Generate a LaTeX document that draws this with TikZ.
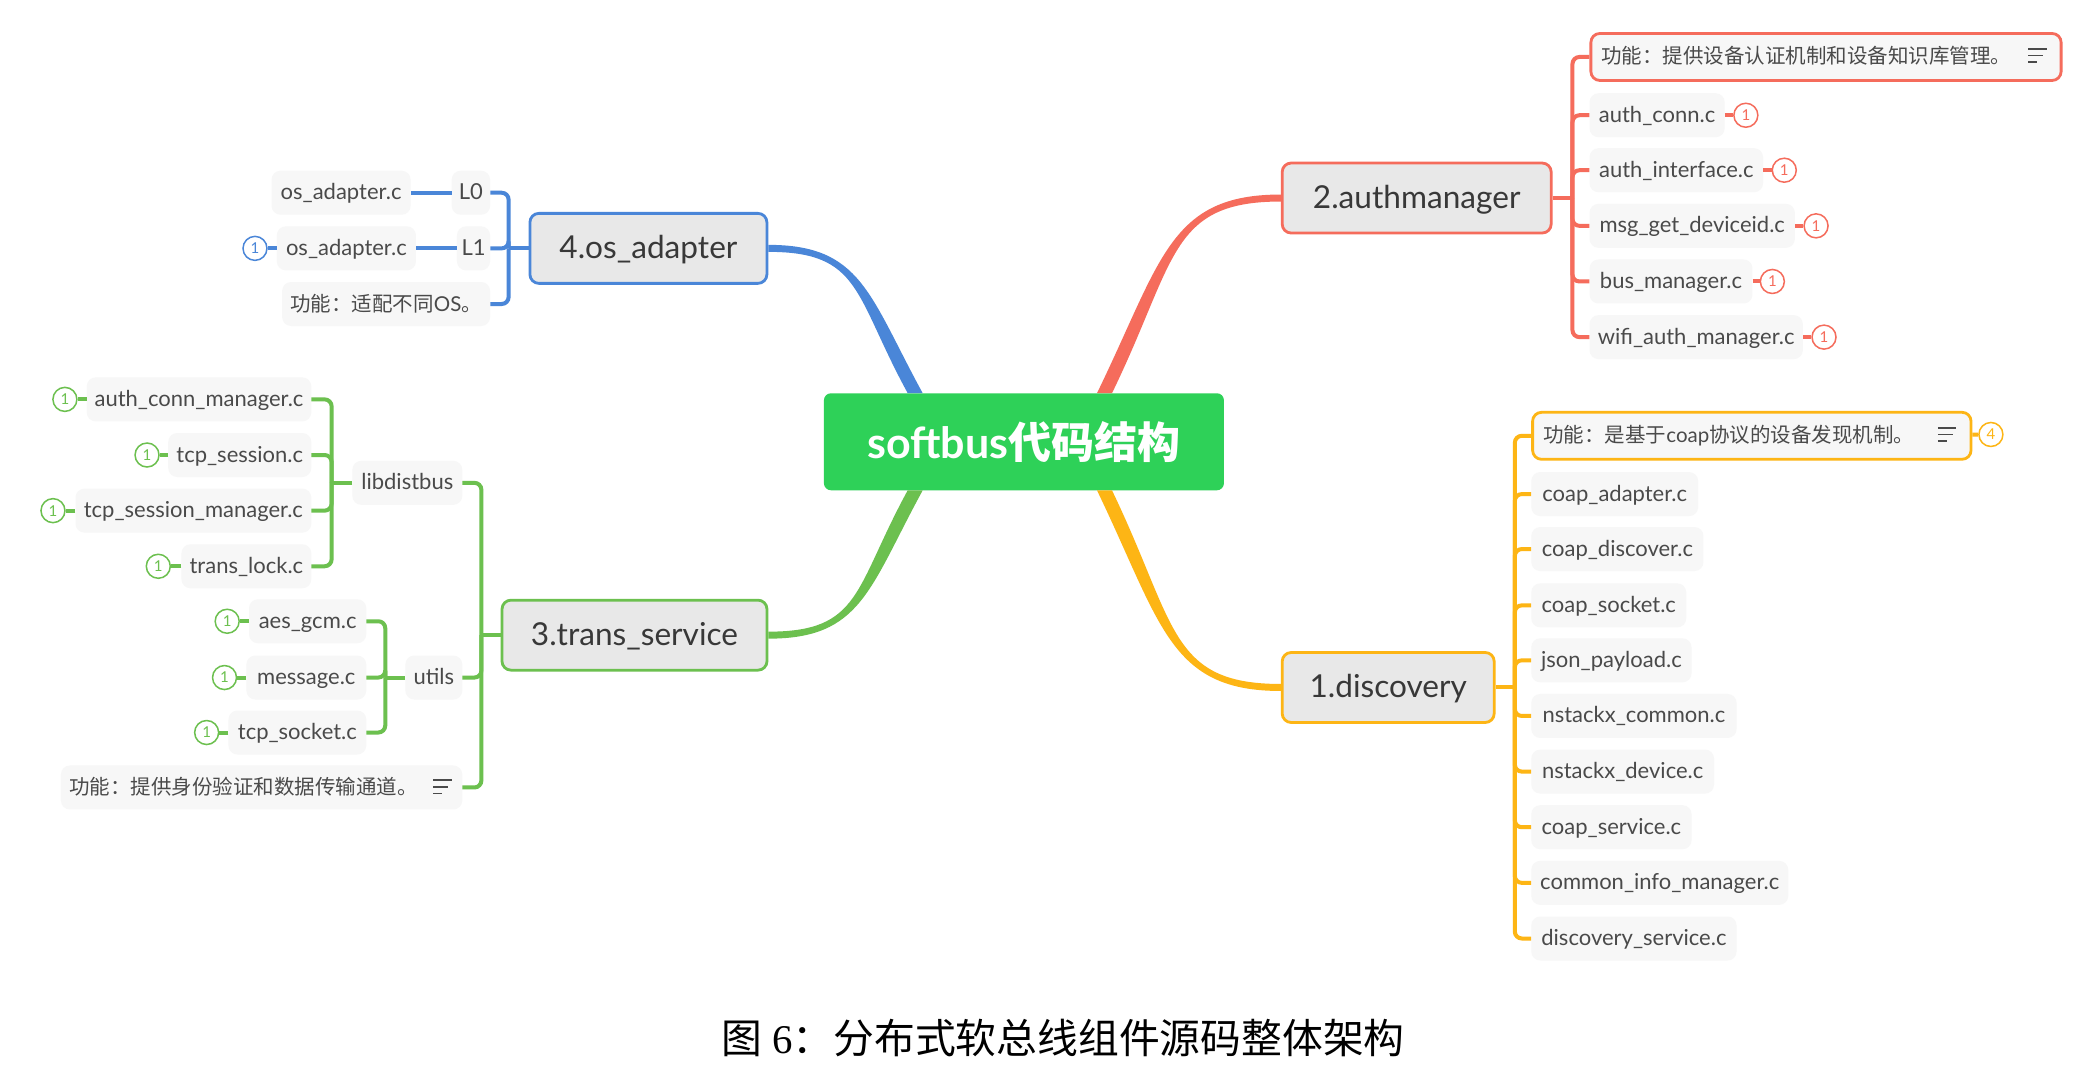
\documentclass[tikz,border=0pt]{standalone}
\usepackage{fontspec}
\usetikzlibrary{calc}
\setmainfont{Lato}
\newfontfamily\cjk{Noto Sans CJK SC}
\newfontfamily\capserif{Liberation Serif}
\definecolor{cred}{HTML}{F56C5C}
\definecolor{cyel}{HTML}{FDB515}
\definecolor{cblu}{HTML}{4A86D8}
\definecolor{cgrn}{HTML}{6CC04F}
\definecolor{croot}{HTML}{2ED158}
\definecolor{ctxt}{HTML}{4A4A4A}
\newcommand\cjknote{\cjk\fontsize{20.5}{24}\selectfont}
\tikzset{
  rootbox/.style={fill=croot,rounded corners=7pt,text=white,font=\fontsize{43}{46}\selectfont\bfseries,minimum height=97pt,minimum width=400pt,inner sep=0pt},
  mainbox/.style={draw=#1,fill=black!9,line width=2.8pt,rounded corners=9pt,text=black!78,font=\fontsize{31.6}{35}\selectfont,minimum height=70pt,inner sep=0pt,text height=22pt,text depth=2pt},
  leafbox/.style={fill=black!3,rounded corners=9pt,text=ctxt,font=\fontsize{22}{25}\selectfont,minimum height=44pt,inner xsep=0pt,inner ysep=0pt,text height=15pt,text depth=1pt},
  notebox/.style={leafbox,draw=#1,line width=2.8pt,minimum height=47pt},
  plainnote/.style={leafbox,minimum height=44pt},
  badge/.style={circle,draw=#1,fill=white,line width=1.5pt,text=#1,minimum size=24pt,inner sep=0pt,font=\fontsize{15}{15}\selectfont},
  twig/.style={draw=#1,line width=4pt,rounded corners=7pt},
  stub/.style={draw=#1,line width=4pt},
  iconline/.style={draw=ctxt,line width=1.6pt},
  captiontext/.style={font=\fontsize{40.8}{44}\selectfont,text=black,inner sep=0pt}
}
\newcommand\leaf[6][leafbox]{\node[#1,minimum width={(#3-#2)*1.3246pt}] (#4) at ({(#2+#3)/2},#5) {#6};}
\newcommand\badged[3]{\node[badge=#1] (#2-b) at (#3) {1};\draw[stub=#1] (#2) -- (#2-b);}
\newcommand\noteicon[2]{\draw[iconline] (#1,#2-5) -- ++(14,0);\draw[iconline] (#1,#2) -- ++(11,0);\draw[iconline] (#1,#2+5) -- ++(7,0);}
\newcommand\branch[4]{\fill[#1] let \p1=(#2),\p2=(#3),\n1={\x1-\x2},\n2={\y1-\y2} in
  (\x2,{\y2+3.5pt}) .. controls ({\x2+.634*(\n1)},{\y2+3.5pt}) and ({\x1-.366*(\n1)+(#4)*7.5pt},{\y1-.68*(\n2)}) .. ({\x1+(#4)*7.5pt},\y1)
  -- ({\x1-(#4)*7.5pt},\y1) .. controls ({\x1-.366*(\n1)-(#4)*7.5pt},{\y1-.68*(\n2)}) and ({\x2+.634*(\n1)},{\y2-3.5pt}) .. (\x2,{\y2-3.5pt}) -- cycle;}
\begin{document}
\begin{tikzpicture}[x=1.3246pt,y=-1.3246pt]
\useasboundingbox (0,0) rectangle (1568,815.3);
\fill[white] (0,0) rectangle (1568,815.3);
% root and main nodes
\node[rootbox] (root) at (773,333.5) {softbus{\cjk 代码结构}};
\node[mainbox=cred,minimum width=269pt] (n2) at (1069.5,149.5) {2.authmanager};
\node[mainbox=cyel,minimum width=212pt] (n1) at (1048,519) {1.discovery};
\node[mainbox=cblu,minimum width=237pt] (n4) at (489.5,187.5) {4.os\_adapter};
\node[mainbox=cgrn,minimum width=265pt] (n3) at (479,479.5) {3.trans\_service};
% branch ends on the root
\coordinate (ra) at ($(root.north west)+(69,0)$);
\coordinate (rb) at ($(root.north west)+(212,0)$);
\coordinate (rc) at ($(root.south west)+(69,0)$);
\coordinate (rd) at ($(root.south west)+(212,0)$);
\branch{cblu}{ra}{n4.east}{1}
\branch{cred}{rb}{n2.west}{-1}
\branch{cgrn}{rc}{n3.east}{-1}
\branch{cyel}{rd}{n1.west}{1}
% authmanager
\leaf[notebox=cred]{1201}{1556}{a0}{43}{\hspace*{-40pt}{\cjknote 功能：提供设备认证机制和设备知识库管理。}}
\noteicon{1531}{42}
\leaf{1200}{1302}{a1}{87}{auth\_conn.c}
\leaf{1200}{1331}{a2}{128.5}{auth\_interface.c}
\leaf{1200}{1355}{a3}{170.5}{msg\_get\_deviceid.c}
\leaf{1200}{1323}{a4}{212.5}{bus\_manager.c}
\leaf{1200}{1361}{a5}{254.5}{wifi\_auth\_manager.c}
\badged{cred}{a1}{1318,87}
\badged{cred}{a2}{1347,128.5}
\badged{cred}{a3}{1371,170.5}
\badged{cred}{a4}{1338,212.5}
\badged{cred}{a5}{1377,254.5}
\coordinate (ta) at ($(n2.east)+(15,0)$);
\draw[stub=cred] (n2.east) -- (ta);
\foreach \c in {a0,a1,a2,a3,a4,a5} \draw[twig=cred] (ta) |- (\c.west);
% discovery
\leaf[notebox=cyel]{1157}{1488}{d0}{329}{\hspace*{-46pt}{\cjknote 功能：是基于}{\fontsize{20.5}{24}\selectfont coap}{\cjknote 协议的设备发现机制。}}
\noteicon{1463}{328}
\node[badge=cyel] (d0-b) at (1503,328) {4};
\draw[stub=cyel] (d0) -- (d0-b);
\leaf{1156}{1282}{d1}{373}{coap\_adapter.c}
\leaf{1156}{1286}{d2}{414.5}{coap\_discover.c}
\leaf{1156}{1273}{d3}{457}{coap\_socket.c}
\leaf{1156}{1277}{d4}{498.5}{json\_payload.c}
\leaf{1156}{1311}{d5}{540.5}{nstackx\_common.c}
\leaf{1156}{1294}{d6}{582.5}{nstackx\_device.c}
\leaf{1156}{1277}{d7}{624.5}{coap\_service.c}
\leaf{1156}{1350}{d8}{666.5}{common\_info\_manager.c}
\leaf{1156}{1311}{d9}{708.5}{discovery\_service.c}
\coordinate (td) at ($(n1.east)+(14.5,0)$);
\draw[stub=cyel] (n1.east) -- (td);
\foreach \c in {d0,d1,d2,d3,d4,d5,d6,d7,d8,d9} \draw[twig=cyel] (td) |- (\c.west);
% os_adapter
\leaf{341}{370}{l0}{145.5}{L0}
\leaf{345}{370}{l1}{187.5}{L1}
\leaf[plainnote]{213}{370}{o3}{229.5}{{\cjknote 功能：适配不同}{\fontsize{20.5}{24}\selectfont OS}{\cjknote 。}}
\leaf{205}{310}{o1}{145.5}{os\_adapter.c}
\leaf{209}{314}{o2}{187.5}{os\_adapter.c}
\badged{cblu}{o2}{192.5,187.5}
\draw[stub=cblu] (l0) -- (o1);
\draw[stub=cblu] (l1) -- (o2);
\coordinate (to) at ($(n4.west)+(-15,0)$);
\draw[stub=cblu] (n4.west) -- (to);
\foreach \c in {l0,l1,o3} \draw[twig=cblu] (to) |- (\c.east);
% trans_service
\leaf{266}{349}{g1}{364.5}{libdistbus}
\leaf{306}{349}{g2}{511.5}{utils}
\leaf[plainnote]{46}{349}{g3}{594.5}{\hspace*{-36pt}{\cjknote 功能：提供身份验证和数据传输通道。}}
\noteicon{327}{594}
\leaf{65.5}{235}{h1}{301.5}{auth\_conn\_manager.c}
\leaf{127}{235}{h2}{343.5}{tcp\_session.c}
\leaf{57}{235}{h3}{385.5}{tcp\_session\_manager.c}
\leaf{137}{235}{h4}{427.5}{trans\_lock.c}
\leaf{188}{276.5}{u1}{469}{aes\_gcm.c}
\leaf{186}{276.5}{u2}{511.5}{message.c}
\leaf{172.5}{276.5}{u3}{553}{tcp\_socket.c}
\badged{cgrn}{h1}{49,301.5}
\badged{cgrn}{h2}{111,343.5}
\badged{cgrn}{h3}{40,385.5}
\badged{cgrn}{h4}{119.5,427.5}
\badged{cgrn}{u1}{171.5,469}
\badged{cgrn}{u2}{169.5,511.5}
\badged{cgrn}{u3}{156,553}
\coordinate (tg) at ($(n3.west)+(-14.5,0)$);
\draw[stub=cgrn] (n3.west) -- (tg);
\foreach \c in {g1,g2,g3} \draw[twig=cgrn] (tg) |- (\c.east);
\coordinate (th) at ($(g1.west)+(-15.5,0)$);
\draw[stub=cgrn] (g1.west) -- (th);
\foreach \c in {h1,h2,h3,h4} \draw[twig=cgrn] (th) |- (\c.east);
\coordinate (tu) at ($(g2.west)+(-15,0)$);
\draw[stub=cgrn] (g2.west) -- (tu);
\foreach \c in {u1,u2,u3} \draw[twig=cgrn] (tu) |- (\c.east);
% caption
\node[captiontext] (cap) at (802.5,784) {{\cjk 图}\hspace{10pt}{\capserif 6}{\cjk ：分布式软总线组件源码整体架构}};
\end{tikzpicture}
\end{document}
